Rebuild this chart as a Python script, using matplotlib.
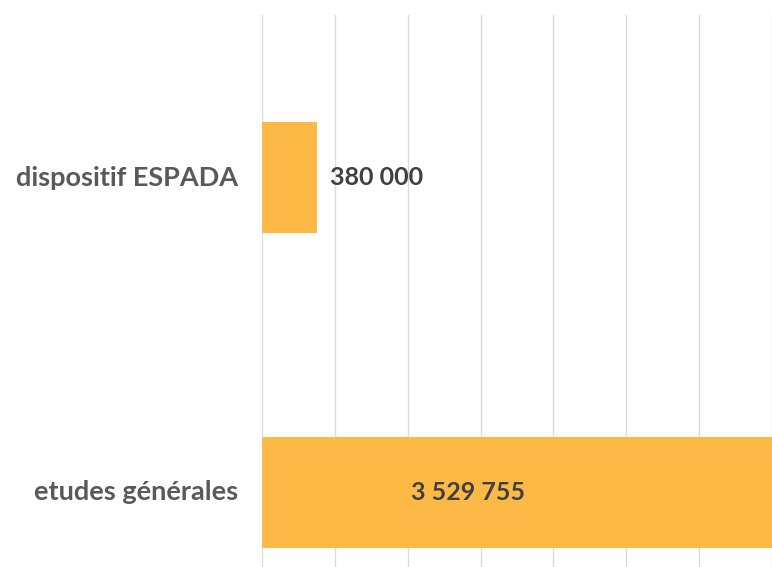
import matplotlib.pyplot as plt

categories = ["etudes générales", "dispositif ESPADA"]
values = [3529755, 380000]
value_labels = ["3 529 755", "380 000"]

BAR_COLOR = "#FDB945"
GRID_COLOR = "#DCDCDC"
LABEL_COLOR = "#595959"
VALUE_COLOR = "#404040"

fig = plt.figure(figsize=(7.72, 5.67), dpi=100)
ax = fig.add_axes([262 / 772, 0.0, 1 - 262 / 772, 1 - 15 / 567])

ypos = list(range(len(categories)))
ax.barh(ypos, values, height=0.353, color=BAR_COLOR, zorder=2)

ax.set_xlim(0, 3469000)
ax.set_ylim(-0.237, 1.518)
ax.set_xticks(range(0, 3500001, 500000))
ax.xaxis.grid(True, color=GRID_COLOR, linewidth=1.0, zorder=0)
ax.tick_params(axis="both", length=0, labelbottom=False, labelleft=False)
for s in ax.spines.values():
    s.set_visible(False)

fam = ["Lato", "DejaVu Sans"]

# category names to the left of the plot
for y, name in zip(ypos, categories):
    ax.text(-0.047, y, name, transform=ax.get_yaxis_transform(),
            ha="right", va="center", color=LABEL_COLOR,
            family=fam, fontweight="bold", fontsize=19.5)

# value labels: inside the long bar, after the short one
ax.text(1415000, ypos[0], value_labels[0], ha="center", va="center",
        color=VALUE_COLOR, family=fam, fontweight="bold", fontsize=18)
ax.text(values[1] + 85000, ypos[1], value_labels[1], ha="left", va="center",
        color=VALUE_COLOR, family=fam, fontweight="bold", fontsize=18)

fig.savefig("out.png", dpi=100)
